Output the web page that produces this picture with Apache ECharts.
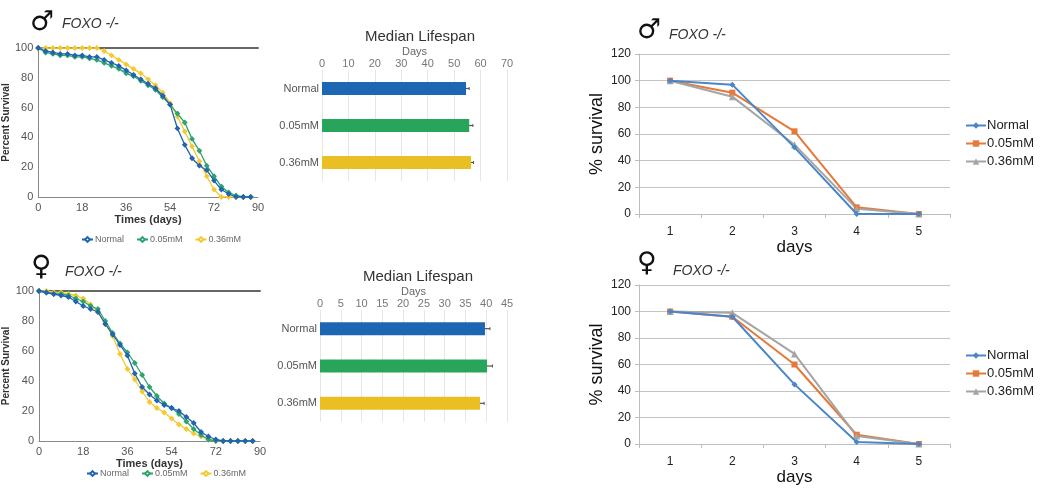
<!DOCTYPE html>
<html><head><meta charset="utf-8">
<script src="https://cdn.jsdelivr.net/npm/echarts@6/dist/echarts.min.js"></script>
<style>html,body{margin:0;padding:0;background:#fff}#c{width:1049px;height:497px}</style>
</head><body><div id="c"></div>
<script>
// ---- survival curves (left) ----
const survDays = [0,3,6,9,12,15,18,21,24,27,30,33,36,39,42,45,48,51,54,57,60,63,66,69,72,75,78,81,84,87];
const maleNormal = [100,98,97,96,96,95,95,94,94,92,90,88,85,82,79,76,73,68,62,46,35,26,21,18,11,5,2,0,0,0];
const maleLow    = [100,97,96,95,95,94,94,93,92,90,88,86,83,81,78,75,72,67,62,56,50,39,31,21,14,7,3,1,0,0];
const maleHigh   = [100,100,100,100,100,100,100,100,100,98,95,92,89,86,83,79,75,70,63,54,44,34,24,14,5,0,0,0,0,0];
const femNormal  = [100,99,98,97,96,93,90,88,86,78,71,64,57,45,36,31,27,24,22,20,16,12,6,3,1,0,0,0,0,0];
const femLow     = [100,99,98,98,97,95,93,90,88,80,72,65,59,52,44,36,30,25,22,18,13,8,4,1,0,0,0,0,0,0];
const femHigh    = [100,100,99,99,98,97,95,91,86,78,70,58,48,41,33,26,22,19,15,11,8,5,3,1,0,0,0,0,0,0];
const survNames = ['Normal','0.05mM','0.36mM'];

// ---- median lifespan bars ----
const barCats = ['Normal','0.05mM','0.36mM'];
const maleMedian = [54.5,55.7,56.4];
const maleErr    = [1.2,1.4,0.9];
const femMedian  = [39.7,40.2,38.5];
const femErr     = [1.2,1.3,1.0];

// ---- % survival (right) ----
const rightCats = ['1','2','3','4','5'];
const rMaleNormal = [100,97,50,0,0];
const rMaleLow    = [100,91,62,5,0];
const rMaleHigh   = [100,88,52,4,0];
const rFemNormal  = [100,96,45,1.5,0];
const rFemLow     = [100,96,60,7,0];
const rFemHigh    = [100,99,68,6,0];
const rightNames = ['Normal ','0.05mM ','0.36mM '];

const leftColors = ['#1f62b0','#2ba36c','#f4c930'];
const barColors = ['#1c66b3','#28a55a','#e9bf24'];
const rightColors = ['#4a86c8','#e5793a','#a5a5a5'];
const rightSymbols = ['diamond','rect','triangle'];

const chart = echarts.init(document.getElementById('c'), null, {renderer:'canvas'});
const FF = 'Liberation Sans, Arial, sans-serif';

function survAxisX(grid, name){
  return [{
    gridIndex: grid, type:'value', min:0, max:90, interval:18,
    name:name, nameLocation:'middle', nameGap:17,
    nameTextStyle:{fontWeight:'bold', fontSize:11, color:'#333', fontFamily:FF},
    axisLine:{show:true, lineStyle:{color:'#888', width:1}},
    axisTick:{show:false}, splitLine:{show:false},
    axisLabel:{fontSize:11, color:'#555', margin:5, fontFamily:FF}
  },{
    gridIndex: grid, type:'value', position:'top', min:0, max:90,
    axisLine:{show:true, onZero:false, lineStyle:{color:'#666', width:2}},
    axisTick:{show:false}, axisLabel:{show:false}, splitLine:{show:false}
  }];
}
function survAxisY(grid){
  return {
    gridIndex:grid, type:'value', min:0, max:100, interval:20,
    name:'Percent Survival', nameLocation:'middle', nameGap:20,
    nameTextStyle:{fontWeight:'bold', fontSize:10, color:'#333', fontFamily:FF},
    axisLine:{show:true, lineStyle:{color:'#888'}}, axisTick:{show:false}, splitLine:{show:false},
    axisLabel:{fontSize:11, color:'#555', margin:5, fontFamily:FF}
  };
}
function barAxisX(grid, max, interval){
  return {
    gridIndex:grid, type:'value', position:'top', min:0, max:max, interval:interval,
    name:'Days', nameLocation:'middle', nameGap:13,
    nameTextStyle:{fontSize:11, color:'#666', fontFamily:FF},
    axisLine:{show:false}, axisTick:{show:false},
    splitLine:{show:true, lineStyle:{color:'#e6e6e6'}},
    axisLabel:{fontSize:11, color:'#777', margin:1, fontFamily:FF}
  };
}
function barAxisY(grid){
  return {
    gridIndex:grid, type:'category', data:barCats, inverse:true,
    axisLine:{show:false}, axisTick:{show:false},
    axisLabel:{fontSize:11, color:'#555', margin:3, fontFamily:FF}
  };
}
function rightAxisX(grid){
  return {
    gridIndex:grid, type:'category', data:rightCats, boundaryGap:true,
    name:'days', nameLocation:'middle', nameGap:24,
    nameTextStyle:{fontSize:17, color:'#111', fontFamily:FF},
    axisLine:{show:true, lineStyle:{color:'#bdbdbd'}},
    axisTick:{show:true, alignWithLabel:false, length:4, lineStyle:{color:'#bdbdbd'}},
    axisLabel:{fontSize:12, color:'#222', margin:12, fontFamily:FF}
  };
}
function rightAxisY(grid){
  return {
    gridIndex:grid, type:'value', min:0, max:120, interval:20,
    name:'% survival', nameLocation:'middle', nameGap:33,
    nameTextStyle:{fontSize:18, color:'#111', fontFamily:FF},
    axisLine:{show:true, lineStyle:{color:'#bdbdbd'}},
    axisTick:{show:true, length:4, lineStyle:{color:'#bdbdbd'}},
    splitLine:{show:true, lineStyle:{color:'#c4c4c4', width:1}},
    axisLabel:{fontSize:12, color:'#222', margin:8, fontFamily:FF}
  };
}
function survSeries(xi, yi, arrs){
  return arrs.map((arr,i)=>({
    type:'line', name:survNames[i], xAxisIndex:xi, yAxisIndex:yi,
    data: survDays.map((d,k)=>[d, arr[k]]),
    symbol:'emptyDiamond', symbolSize:3, showSymbol:true,
    lineStyle:{width:1.3, color:leftColors[i]}, itemStyle:{color:leftColors[i], borderWidth:0.8},
    z: 3 - i
  }));
}
function barSeries(xi, yi, med, err, tag){
  return [{
    type:'bar', name:'median'+tag, xAxisIndex:xi, yAxisIndex:yi, barWidth:13,
    data: med.map((v,i)=>({value:v, itemStyle:{color:barColors[i]}})), z:3
  },{
    type:'custom', name:'err'+tag, xAxisIndex:xi, yAxisIndex:yi, z:2,
    data: med.map((v,i)=>[v, err[i], i]),
    encode:{x:0, y:2},
    renderItem:function(params, api){
      const v = api.value(0), e = api.value(1), c = api.value(2);
      const p1 = api.coord([v-e, c]), p2 = api.coord([v+e, c]);
      return {type:'group', children:[
        {type:'line', shape:{x1:p1[0], y1:p1[1], x2:p2[0], y2:p2[1]}, style:{stroke:'#555', lineWidth:1.2}},
        {type:'line', shape:{x1:p2[0], y1:p2[1]-1.5, x2:p2[0], y2:p2[1]+1.5}, style:{stroke:'#555', lineWidth:1}}
      ]};
    }
  }];
}
function rightSeries(xi, yi, arrs){
  return arrs.map((arr,i)=>({
    type:'line', name:rightNames[i], xAxisIndex:xi, yAxisIndex:yi, data:arr,
    symbol:rightSymbols[i], symbolSize:i===2?7:6,
    lineStyle:{width:2, color:rightColors[i]}, itemStyle:{color:rightColors[i]},
    z: i===0?4:3
  }));
}
function symTitle(sym, left, top, size){
  return {text:sym, left:left, top:top, textStyle:{fontSize:size, fontWeight:'normal', color:'#111', fontFamily:'DejaVu Sans'}};
}
function foxoTitle(left, top){
  return {text:'FOXO -/-', left:left, top:top, textStyle:{fontSize:14, fontStyle:'italic', fontWeight:'normal', color:'#333', fontFamily:FF}};
}
const legendText = {fontSize:9, color:'#666', fontFamily:FF, padding:[0,0,0,-3]};
const rLegendText = {fontSize:13, color:'#222', fontFamily:FF, padding:[0,0,0,-4]};

const option = {
  backgroundColor:'#fff',
  animation:false,
  title:[
    symTitle('♂', 25, 4, 27), foxoTitle(57, 12),
    symTitle('♀', 26, 249, 28), foxoTitle(60, 260),
    symTitle('♂', 632, 12, 27), foxoTitle(664, 23),
    symTitle('♀', 632, 245, 27), foxoTitle(668, 259),
    {text:'Median Lifespan', left:415, top:24, textAlign:'center', textStyle:{fontSize:15, fontWeight:'normal', color:'#333', fontFamily:FF}},
    {text:'Median Lifespan', left:413, top:264, textAlign:'center', textStyle:{fontSize:15, fontWeight:'normal', color:'#333', fontFamily:FF}}
  ],
  legend:[
    {data:survNames, left:76, top:230, itemWidth:11, itemHeight:6, itemGap:12, textStyle:legendText},
    {data:survNames, left:81, top:464, itemWidth:11, itemHeight:6, itemGap:12, textStyle:legendText},
    {data:rightNames, orient:'vertical', left:960, top:114, itemWidth:20, itemHeight:8, itemGap:5, textStyle:rLegendText},
    {data:rightNames, orient:'vertical', left:960, top:344, itemWidth:20, itemHeight:8, itemGap:5, textStyle:rLegendText}
  ],
  grid:[
    {left:33, top:48, width:225, height:149},
    {left:39, top:291, width:221, height:150},
    {left:322, top:70, width:185, height:111},
    {left:320, top:310, width:187, height:112},
    {left:639, top:54, width:311, height:160},
    {left:639, top:285, width:311, height:159}
  ],
  xAxis:[
    ...survAxisX(0,'Times (days)'),
    ...survAxisX(1,'Times (days)'),
    barAxisX(2, 70, 10),
    barAxisX(3, 45, 5),
    rightAxisX(4),
    rightAxisX(5)
  ],
  yAxis:[
    survAxisY(0), survAxisY(1), barAxisY(2), barAxisY(3), rightAxisY(4), rightAxisY(5)
  ],
  series:[
    ...survSeries(0,0,[maleNormal,maleLow,maleHigh]),
    ...survSeries(2,1,[femNormal,femLow,femHigh]),
    ...barSeries(4,2,maleMedian,maleErr,'M'),
    ...barSeries(5,3,femMedian,femErr,'F'),
    ...rightSeries(6,4,[rMaleNormal,rMaleLow,rMaleHigh]),
    ...rightSeries(7,5,[rFemNormal,rFemLow,rFemHigh])
  ]
};
chart.setOption(option);
</script></body></html>
